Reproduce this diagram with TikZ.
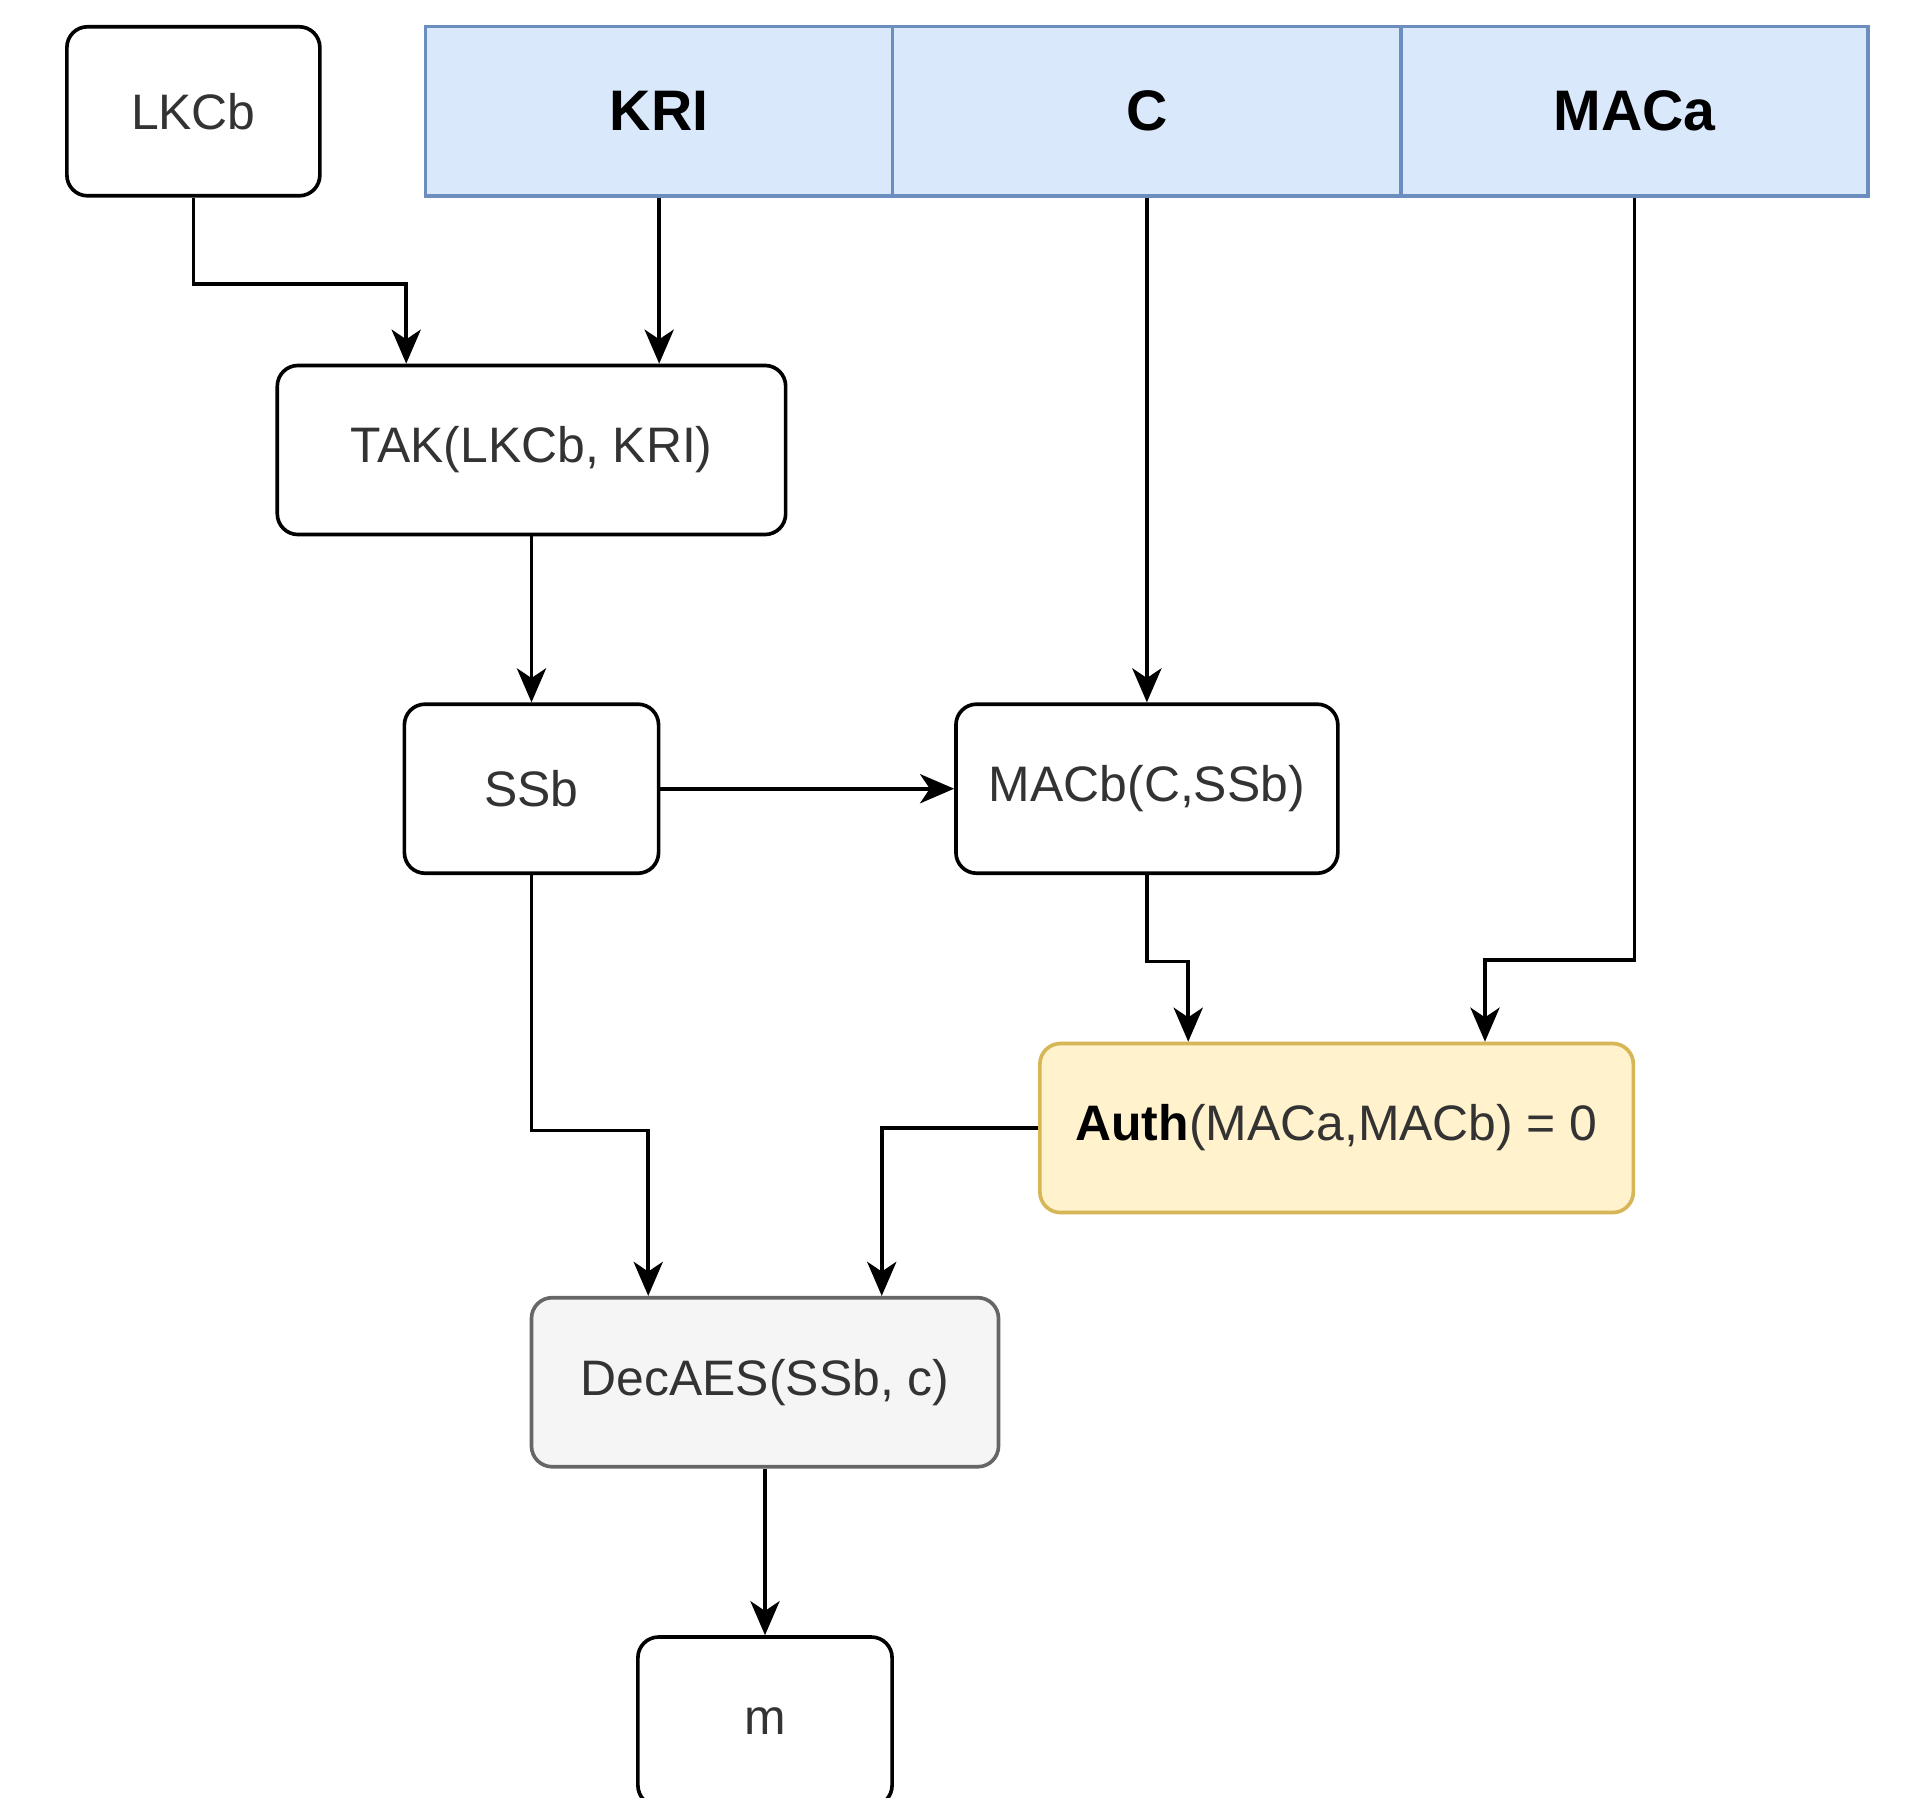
\documentclass[tikz,border=0pt]{standalone}
\usepackage{fontspec}
\setmainfont{Liberation Sans}
\usetikzlibrary{arrows.meta}
\definecolor{txtgray}{HTML}{333333}
\definecolor{hdrfill}{HTML}{DAE8FC}
\definecolor{hdrline}{HTML}{6C8EBF}
\definecolor{authfill}{HTML}{FFF2CC}
\definecolor{authline}{HTML}{D6B656}
\definecolor{decfill}{HTML}{F5F5F5}
\definecolor{decline}{HTML}{666666}
\tikzset{
  box/.style={draw=black, line width=3pt, rounded corners=17pt, fill=white,
    minimum height=139pt, inner sep=0pt, text=txtgray,
    font=\fontsize{41}{49}\selectfont},
  hdr/.style={draw=hdrline, line width=2.8pt, fill=hdrfill, minimum height=139pt,
    inner sep=0pt, text=black, font=\fontsize{47}{56}\selectfont\bfseries},
  arr/.style={draw=black, line width=3pt,
    -{Stealth[length=28pt, width=24pt, inset=8pt]}},
}
\begin{document}
\begin{tikzpicture}[x=1pt, y=-1pt]
\useasboundingbox (0,0) rectangle (1568,1478);
\fill[white] (0,0) rectangle (1568,1478);

% header row
\node[hdr, minimum width=384pt] (kri)  at (542,91.5)  {KRI};
\node[hdr, minimum width=418pt] (c)    at (943,91.5)  {C};
\node[hdr, minimum width=384pt] (maca) at (1344,91.5) {MACa};

% boxes
\node[box, minimum width=208pt] (lkcb) at (159,91.5)  {LKCb};
\node[box, minimum width=418pt] (tak)  at (437,370)   {TAK(LKCb, KRI)};
\node[box, minimum width=209pt] (ssb)  at (437,648.5) {SSb};
\node[box, minimum width=314pt] (macb) at (943,648.5) {MACb(C,SSb)};
\node[box, minimum width=488pt, draw=authline, fill=authfill] (auth) at (1099,927.5)
  {\textcolor{black}{\bfseries Auth}(MACa,MACb) = 0};
\node[box, minimum width=384pt, draw=decline, fill=decfill] (dec) at (629,1136.5)
  {DecAES(SSb, c)};
\node[box, minimum width=209pt] (m) at (629,1415.5) {m};

% connectors
\draw[arr] (lkcb.south) -- ++(0,71) -| ([xshift=-103pt]tak.north);
\draw[arr] (kri.south) -- (kri.south |- tak.north);
\draw[arr] (c.south) -- (c.south |- macb.north);
\draw[arr] (maca.south) -- ++(0,627) -| ([xshift=122pt]auth.north);
\draw[arr] (tak.south) -- (ssb.north);
\draw[arr] (ssb.east) -- (macb.west);
\draw[arr] (macb.south) -- ++(0,71) -| ([xshift=-122pt]auth.north);
\draw[arr] (ssb.south) -- ++(0,210) -| ([xshift=-96pt]dec.north);
\draw[arr] (auth.west) -| ([xshift=96pt]dec.north);
\draw[arr] (dec.south) -- (m.north);
\end{tikzpicture}
\end{document}
